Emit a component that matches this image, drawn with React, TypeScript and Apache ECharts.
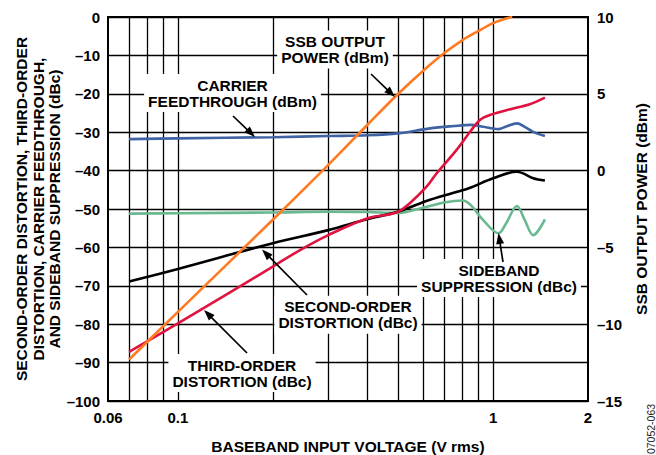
import React, { useEffect, useRef } from 'react';
import * as echarts from 'echarts';

const FONT = '"Liberation Sans", Arial, Helvetica, sans-serif';

// Axes
const X_MIN = 0.06;
const X_MAX = 2;
const X_GRID = [0.07, 0.08, 0.09, 0.1, 0.2, 0.3, 0.4, 0.5, 0.6, 0.7, 0.8, 0.9, 1];
const LEFT_MIN = -100;
const LEFT_MAX = 0;
const LEFT_STEP = 10;
const RIGHT_MIN = -15;
const RIGHT_MAX = 10;
const RIGHT_STEP = 5;

// SSB output power (dBm, right axis)
const ssbX = [0.07, 0.1, 0.2, 0.3, 0.4, 0.5, 0.6, 0.7, 0.8, 0.9, 1.0, 1.1, 1.15];
const ssbY = [-12.3, -9.2, -3.2, 0.37, 3.0, 5.0, 6.5, 7.65, 8.5, 9.1, 9.6, 9.9, 10];

// Carrier feedthrough (dBm, left axis)
const carrierX = [0.07, 0.1, 0.2, 0.3, 0.4, 0.5, 0.63, 0.75, 0.85, 0.93, 1.04, 1.1, 1.19, 1.26, 1.34, 1.46];
const carrierY = [-31.8, -31.6, -31.3, -31.0, -30.8, -30.3, -29.0, -28.4, -28.1, -28.6, -29.2, -28.5, -27.7, -28.6, -29.9, -31.0];

// Sideband suppression (dBc)
const sidebandX = [0.07, 0.1, 0.2, 0.3, 0.4, 0.5, 0.59, 0.7, 0.8, 0.85, 0.93, 1.04, 1.1, 1.19, 1.26, 1.34, 1.46];
const sidebandY = [-51.2, -51.1, -50.9, -50.7, -50.8, -51.0, -49.8, -48.3, -47.8, -49.0, -52.9, -56.3, -53.7, -49.2, -52.9, -56.8, -52.7];

// Second-order distortion (dBc)
const secondX = [0.07, 0.1, 0.2, 0.3, 0.4, 0.494, 0.631, 0.795, 0.85, 1.0, 1.19, 1.34, 1.46];
const secondY = [-68.9, -65.6, -58.9, -55.5, -52.6, -50.8, -47.6, -45.2, -44.4, -42.0, -40.3, -42.0, -42.6];

// Third-order distortion (dBc)
const thirdX = [0.07, 0.1, 0.2, 0.244, 0.3, 0.4, 0.494, 0.544, 0.615, 0.662, 0.766, 0.845, 0.908, 0.977, 1.159, 1.3, 1.46];
const thirdY = [-87.2, -79.8, -65.0, -60.7, -56.8, -52.4, -50.9, -48.5, -44.2, -40.7, -34.6, -29.9, -26.8, -25.5, -23.8, -22.8, -21.0];

const pairs = (xs: number[], ys: number[]) => xs.map((x, i) => [x, ys[i]]);

// Annotation layout (pixels)
const ANNOTATIONS = [
  { text: 'SSB OUTPUT\nPOWER (dBm)', x: 335, y: 49.5, arrow: [371, 74, 395, 97] },
  { text: 'CARRIER\nFEEDTHROUGH (dBm)', x: 232.5, y: 93, arrow: [233, 116, 255, 137] },
  { text: 'SECOND-ORDER\nDISTORTION (dBc)', x: 348, y: 314.7, arrow: [307, 295, 262, 249.5] },
  { text: 'THIRD-ORDER\nDISTORTION (dBc)', x: 242, y: 373, arrow: [247, 353, 204, 310] },
  { text: 'SIDEBAND\nSUPPRESSION (dBc)', x: 499, y: 278, arrow: [503, 262, 498.5, 233] },
];

const dash = (v: number) => (v < 0 ? '\u2013' + Math.abs(v) : String(v));

function arrowElements(a: number[]) {
  const [x1, y1, x2, y2] = a;
  const dx = x2 - x1;
  const dy = y2 - y1;
  const len = Math.sqrt(dx * dx + dy * dy);
  const ux = dx / len;
  const uy = dy / len;
  const hl = 11;
  const hw = 4;
  const bx = x2 - ux * hl;
  const by = y2 - uy * hl;
  return [
    {
      type: 'line',
      z: 60,
      shape: { x1, y1, x2: bx + ux * 2, y2: by + uy * 2 },
      style: { stroke: '#000', lineWidth: 1.7 },
    },
    {
      type: 'polygon',
      z: 61,
      shape: {
        points: [
          [x2, y2],
          [bx - uy * hw, by + ux * hw],
          [bx + uy * hw, by - ux * hw],
        ],
      },
      style: { fill: '#000' },
    },
  ];
}

export default function App() {
  const ref = useRef<HTMLDivElement>(null);

  useEffect(() => {
    if (!ref.current) return;
    const chart = echarts.init(ref.current, undefined, { renderer: 'svg' });

    const lineSeries = (name: string, data: number[][], color: string, yAxisIndex = 0) => ({
      name,
      type: 'line',
      yAxisIndex,
      data,
      smooth: 0.35,
      showSymbol: false,
      symbol: 'none',
      z: 5,
      lineStyle: { color, width: 2.6 },
      itemStyle: { color },
    });

    const graphic: any[] = [];
    ANNOTATIONS.forEach((a) => {
      graphic.push({
        type: 'text',
        z: 50,
        style: {
          text: a.text,
          x: a.x,
          y: a.y,
          align: 'center',
          verticalAlign: 'middle',
          fontFamily: FONT,
          fontWeight: 'bold',
          fontSize: 15.5,
          lineHeight: 16,
          fill: '#000',
          backgroundColor: '#fff',
          padding: [3, 4],
        },
      });
      graphic.push(...arrowElements(a.arrow));
    });
    graphic.push({
      type: 'text',
      x: 651,
      y: 429,
      rotation: Math.PI / 2,
      style: {
        text: '07052-063',
        align: 'center',
        verticalAlign: 'middle',
        fontFamily: FONT,
        fontSize: 10.5,
        fill: '#222',
      },
    });

    const labelStyle = {
      color: '#000',
      fontFamily: FONT,
      fontWeight: 'bold',
      fontSize: 15,
    };
    const nameStyle = {
      color: '#000',
      fontFamily: FONT,
      fontWeight: 'bold',
      fontSize: 15.5,
      lineHeight: 16.5,
    };

    chart.setOption({
      animation: false,
      backgroundColor: '#fff',
      grid: {
        left: 108,
        top: 17,
        width: 480,
        height: 384,
        show: true,
        borderColor: '#000',
        borderWidth: 2,
        backgroundColor: 'transparent',
        containLabel: false,
        outerBoundsMode: 'none',
      },
      xAxis: {
        type: 'log',
        logBase: 10,
        min: X_MIN,
        max: X_MAX,
        name: 'BASEBAND INPUT VOLTAGE (V rms)',
        nameLocation: 'middle',
        nameGap: 37,
        nameMoveOverlap: false,
        nameTextStyle: nameStyle,
        axisLine: { show: false },
        axisTick: { show: false },
        splitLine: { show: false },
        minorTick: { show: false },
        axisLabel: {
          ...labelStyle,
          margin: 9,
          showMinLabel: true,
          showMaxLabel: true,
          hideOverlap: false,
          formatter: (v: number) => String(parseFloat(Number(v).toPrecision(3))),
        },
      },
      yAxis: [
        {
          type: 'value',
          min: LEFT_MIN,
          max: LEFT_MAX,
          interval: LEFT_STEP,
          position: 'left',
          name: 'SECOND-ORDER DISTORTION, THIRD-ORDER\nDISTORTION, CARRIER FEEDTHROUGH,\nAND SIDEBAND SUPPRESSION (dBc)',
          nameLocation: 'middle',
          nameRotate: 90,
          nameGap: 45,
          nameMoveOverlap: false,
          nameTextStyle: nameStyle,
          axisLine: { show: false },
          axisTick: { show: false },
          axisLabel: { ...labelStyle, margin: 8, formatter: dash },
          splitLine: { show: true, lineStyle: { color: '#000', width: 1.3 } },
        },
        {
          type: 'value',
          min: RIGHT_MIN,
          max: RIGHT_MAX,
          interval: RIGHT_STEP,
          position: 'right',
          name: 'SSB OUTPUT POWER (dBm)',
          nameLocation: 'middle',
          nameRotate: 90,
          nameGap: 45,
          nameMoveOverlap: false,
          nameTextStyle: nameStyle,
          axisLine: { show: false },
          axisTick: { show: false },
          axisLabel: { ...labelStyle, margin: 9, formatter: dash },
          splitLine: { show: false },
        },
      ],
      series: [
        {
          name: 'grid',
          type: 'line',
          data: [],
          z: 1,
          silent: true,
          markLine: {
            silent: true,
            symbol: ['none', 'none'],
            label: { show: false },
            lineStyle: { color: '#000', width: 1.3, type: 'solid' },
            emphasis: { disabled: true },
            data: X_GRID.map((v) => ({ xAxis: v })),
          },
        },
        lineSeries('Carrier feedthrough (dBm)', pairs(carrierX, carrierY), '#3F62A4'),
        lineSeries('Sideband suppression (dBc)', pairs(sidebandX, sidebandY), '#68B890'),
        lineSeries('Second-order distortion (dBc)', pairs(secondX, secondY), '#000000'),
        lineSeries('Third-order distortion (dBc)', pairs(thirdX, thirdY), '#E0123F'),
        lineSeries('SSB output power (dBm)', pairs(ssbX, ssbY), '#FF7A21', 1),
      ],
      graphic,
    });

    return () => chart.dispose();
  }, []);

  return (
    <div
      ref={ref}
      style={{ position: 'fixed', left: 0, top: 0, width: 656, height: 455, background: '#fff' }}
    />
  );
}
